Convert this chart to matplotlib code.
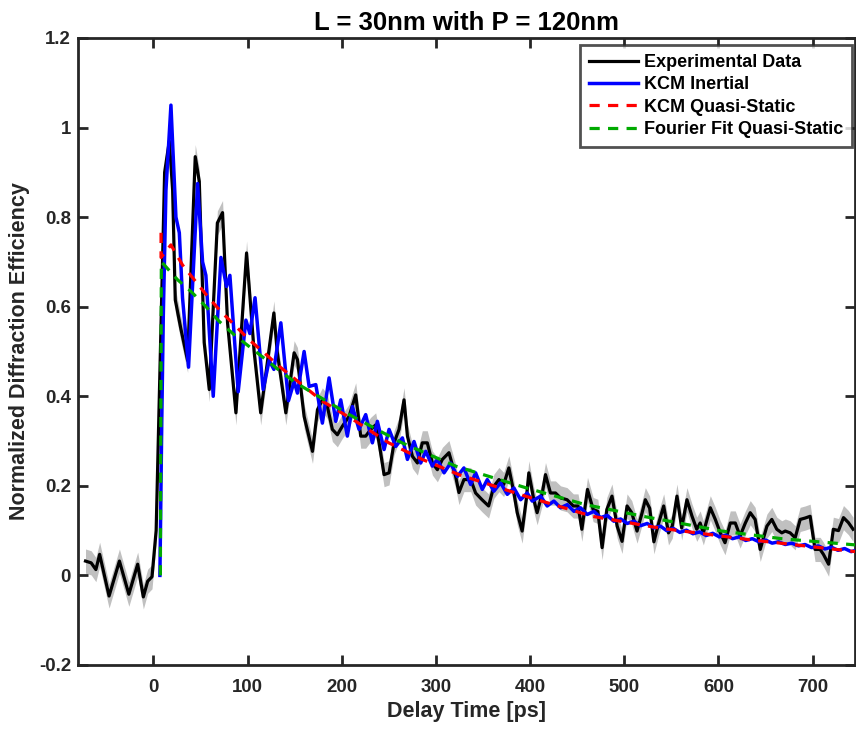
import matplotlib
matplotlib.use("Agg")
import matplotlib.pyplot as plt
import numpy as np
from matplotlib.ticker import FuncFormatter

plt.rcParams['font.family'] = ['Liberation Sans', 'DejaVu Sans']
plt.rcParams['font.weight'] = 'bold'

# ---------------- data ----------------
exp_t = [-72, -66, -61, -57, -47, -36, -26, -16.6, -10.6, -6, -1.4, 3, 8, 12, 17, 20.5, 23.3,
         29.3, 36.4, 44.5, 48.8, 54, 59.4, 68, 73.5, 78.8, 87.7, 99, 107, 114, 128, 131.5,
         140.7, 149.5, 153, 160.1, 169, 174.3, 179.5, 184.8, 190.1, 195.4, 200.7, 207.8,
         214.9, 220.2, 225.5, 230.8, 236.1, 239.7, 245, 250.3, 255.6, 260.9, 266.2, 269.8,
         275.1, 280.4, 285.6, 290.9, 296.3, 301.6, 306.9, 313.9, 321, 324.5, 329.8, 337,
         342.2, 349, 356, 361.6, 367, 372, 377.5, 382.9, 386.4, 391.6, 396, 398.7, 404,
         407.5, 413, 416.4, 421.7, 427, 432.4, 439.3, 446, 451, 455, 461, 467, 472, 476.5,
         481.5, 487, 492.5, 497.7, 503, 508, 513.6, 519, 522.4, 527, 531.5, 536.6, 541.9,
         547, 551, 556, 561, 566.6, 572, 577, 580.6, 584, 591.4, 596.7, 602, 607, 612.6,
         617.9, 623, 628.6, 633.8, 639, 644.4, 651.5, 656.7, 662, 667.3, 671, 676.2, 681.5,
         686.8, 692, 697.4, 702.6, 708, 711.5, 717, 722, 727.5, 732.8, 738, 743]
exp_y = [0.032, 0.028, 0.013, 0.047, -0.046, 0.032, -0.042, 0.025, -0.048, -0.013, -0.003,
         0.10, 0.55, 0.90, 0.97, 0.86, 0.615, 0.55, 0.48, 0.935, 0.88, 0.52, 0.415, 0.787,
         0.81, 0.564, 0.363, 0.72, 0.50, 0.363, 0.586, 0.50, 0.363, 0.497, 0.482, 0.355,
         0.277, 0.370, 0.392, 0.377, 0.326, 0.314, 0.333, 0.355, 0.403, 0.311, 0.311, 0.326,
         0.336, 0.296, 0.225, 0.229, 0.296, 0.326, 0.392, 0.311, 0.266, 0.251, 0.296, 0.296,
         0.251, 0.236, 0.259, 0.274, 0.221, 0.185, 0.214, 0.214, 0.184, 0.169, 0.155, 0.199,
         0.214, 0.203, 0.240, 0.184, 0.140, 0.099, 0.170, 0.229, 0.169, 0.140, 0.184, 0.225,
         0.184, 0.184, 0.173, 0.169, 0.155, 0.155, 0.103, 0.192, 0.147, 0.143, 0.062, 0.147,
         0.177, 0.110, 0.076, 0.155, 0.140, 0.099, 0.140, 0.169, 0.150, 0.075, 0.117, 0.155,
         0.095, 0.110, 0.177, 0.106, 0.169, 0.132, 0.103, 0.117, 0.095, 0.151, 0.125, 0.095,
         0.073, 0.117, 0.117, 0.088, 0.117, 0.140, 0.125, 0.058, 0.110, 0.125, 0.103, 0.095,
         0.099, 0.095, 0.084, 0.125, 0.128, 0.132, 0.058, 0.058, 0.047, 0.025, 0.103, 0.100,
         0.129, 0.118, 0.103]
exp_err = 0.027

kcm_t = [7, 9, 10.6, 13.4, 18.7, 24, 27.6, 31, 37.4, 47, 52.3, 55.8, 63.6, 71.8, 77.7, 81.3,
         90.1, 98.3, 102.5, 108, 116.6, 123, 128, 135.4, 143.5, 149.5, 153, 160.1, 165.4,
         172.5, 179.5, 186.6, 193.7, 199, 206, 211.4, 218.4, 225.5, 232.6, 237.9, 245, 250.3,
         257.4, 264.5, 269.8, 276.8, 283.9, 289.2, 296.3, 301.6, 308.7, 315.7, 322.8, 329.8,
         336.9, 342.2, 349.3, 354.6, 361.6, 368.7, 375.8, 382.9, 390, 397, 402.3, 411.2,
         418.2, 425.3, 432.4, 439.5, 446.6, 453.6, 460.7, 467.8, 474.9, 481.9, 489, 496.1,
         503.2, 510.3, 517.3, 524.4, 531.5, 538.5, 545, 552, 559, 566, 573, 580, 587, 594,
         601, 608, 615, 622, 629, 636, 643, 650, 657, 664, 671, 678, 685, 692, 699, 706, 713,
         720, 727, 734, 741, 746]
kcm_y = [0.0, 0.35, 0.58, 0.86, 1.05, 0.80, 0.765, 0.62, 0.465, 0.875, 0.70, 0.67, 0.40,
         0.71, 0.645, 0.67, 0.41, 0.57, 0.54, 0.62, 0.415, 0.48, 0.46, 0.564, 0.39, 0.433,
         0.407, 0.50, 0.422, 0.426, 0.340, 0.441, 0.344, 0.392, 0.311, 0.377, 0.326, 0.359,
         0.296, 0.344, 0.281, 0.326, 0.288, 0.307, 0.259, 0.299, 0.251, 0.277, 0.244, 0.259,
         0.229, 0.251, 0.221, 0.240, 0.203, 0.229, 0.192, 0.214, 0.188, 0.207, 0.181, 0.195,
         0.169, 0.184, 0.166, 0.177, 0.155, 0.166, 0.151, 0.158, 0.143, 0.151, 0.136, 0.143,
         0.129, 0.134, 0.121, 0.126, 0.116, 0.121, 0.111, 0.116, 0.106, 0.110, 0.100, 0.105,
         0.096, 0.101, 0.093, 0.097, 0.089, 0.094, 0.086, 0.090, 0.082, 0.086, 0.078, 0.082,
         0.075, 0.079, 0.072, 0.075, 0.069, 0.072, 0.066, 0.069, 0.062, 0.066, 0.059, 0.063,
         0.056, 0.060, 0.053, 0.056]

qs_t = [8.2, 8.2, 18.7, 31, 43.5, 57.6, 71.8, 87.7, 101.8, 117.7, 133.6, 149.5, 179.5, 215,
        250, 285.6, 324.5, 395, 466, 536.6, 632, 746]
qs_y = [0.765, 0.71, 0.738, 0.693, 0.66, 0.623, 0.589, 0.556, 0.526, 0.497, 0.467, 0.44,
        0.389, 0.344, 0.296, 0.259, 0.225, 0.177, 0.132, 0.106, 0.080, 0.053]

ff_t = [7.5, 8.5, 11.7, 25.8, 40, 55.9, 70, 86, 101.8, 119.5, 135.4, 151.3, 208, 264, 321,
        395, 458.8, 522.4, 603.7, 667, 746]
ff_y = [0.0, 0.70, 0.693, 0.66, 0.634, 0.60, 0.567, 0.537, 0.511, 0.482, 0.455, 0.43, 0.359,
        0.296, 0.244, 0.196, 0.158, 0.131, 0.099, 0.082, 0.068]

x_ticks = [0, 100, 200, 300, 400, 500, 600, 700]
y_ticks = [-0.2, 0, 0.2, 0.4, 0.6, 0.8, 1.0, 1.2]

# ---------------- figure ----------------
fig = plt.figure(figsize=(8.56, 7.33), dpi=100)
ax = fig.add_axes([0.0911, 0.0928, 0.9077, 0.8554])

et = np.array(exp_t)
ey = np.array(exp_y)
ax.fill_between(et, ey - exp_err, ey + exp_err, color='#c0c0c0', lw=0, zorder=1)
ax.plot(et, ey, color='black', lw=2.3, label='Experimental Data', zorder=2)
ax.plot(kcm_t, kcm_y, color='#0000ff', lw=2.5, label='KCM Inertial', zorder=3)
ax.plot(qs_t, qs_y, color='#ff0000', lw=2.3, ls=(0, (3.2, 2.6)), label='KCM Quasi-Static', zorder=4)
ax.plot(ff_t, ff_y, color='#00aa00', lw=2.3, ls=(0, (3.2, 2.6)), label='Fourier Fit Quasi-Static', zorder=5)

ax.set_xlim(-80, 745)
ax.set_ylim(-0.2, 1.2)
ax.set_xticks(x_ticks)
ax.set_yticks(y_ticks)
ax.yaxis.set_major_formatter(FuncFormatter(lambda v, p: ('%g' % round(v, 2))))

axcol = '#262626'
for s in ax.spines.values():
    s.set_linewidth(2.0)
    s.set_color(axcol)
ax.tick_params(direction='in', length=7, width=2.0, colors=axcol, labelcolor=axcol,
               labelsize=13.4, top=True, right=True)
ax.tick_params(axis='x', pad=10)
ax.tick_params(axis='y', pad=5)
for lab in ax.get_xticklabels() + ax.get_yticklabels():
    lab.set_fontweight('bold')

ax.set_title('L = 30nm with P = 120nm', fontsize=18.5, fontweight='bold', color='black', pad=6)
ax.set_xlabel('Delay Time [ps]', fontsize=15.5, fontweight='bold', color=axcol, labelpad=4)
ax.set_ylabel('Normalized Diffraction Efficiency', fontsize=15.5, fontweight='bold', color=axcol, labelpad=6)

leg = ax.legend(loc='upper right', bbox_to_anchor=(0.996, 0.989), fontsize=13,
                frameon=True, fancybox=False, borderaxespad=0.0, handlelength=2.7,
                handletextpad=0.3, labelspacing=0.3, borderpad=0.5)
leg.get_frame().set_edgecolor('#262626')
leg.get_frame().set_linewidth(2.0)
for t in leg.get_texts():
    t.set_fontweight('bold')

fig.savefig('out.png', dpi=100)
